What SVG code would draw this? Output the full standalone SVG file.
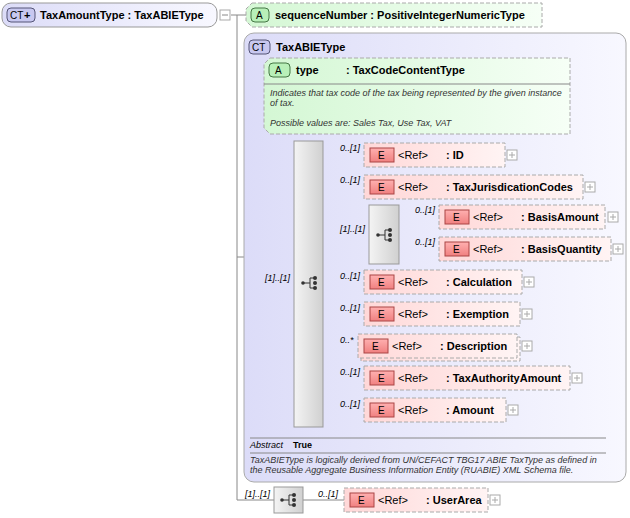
<svg xmlns="http://www.w3.org/2000/svg" width="630" height="518" viewBox="0 0 630 518">
<defs>
<linearGradient id="gE" x1="0" y1="0" x2="1" y2="0"><stop offset="0" stop-color="#ffd8d8"/><stop offset="1" stop-color="#fff4f4"/></linearGradient>
<linearGradient id="gA" x1="0" y1="0" x2="1" y2="0"><stop offset="0" stop-color="#d4f7d4"/><stop offset="1" stop-color="#f6fff6"/></linearGradient>
<linearGradient id="gCT" x1="0" y1="0" x2="1" y2="0"><stop offset="0" stop-color="#dcdcf8"/><stop offset="1" stop-color="#f8f8ff"/></linearGradient>
<linearGradient id="gS" x1="0" y1="0" x2="1" y2="0"><stop offset="0" stop-color="#f4f4f4"/><stop offset="1" stop-color="#d0d0d0"/></linearGradient>
<linearGradient id="gEi" x1="0" y1="0" x2="0" y2="1"><stop offset="0" stop-color="#ffb0b0"/><stop offset="1" stop-color="#f08080"/></linearGradient>
<g id="seqIcon"><line x1="-7" y1="0" x2="0" y2="0" stroke="#333"/><line x1="0" y1="-5" x2="0" y2="5" stroke="#333"/><line x1="0" y1="-5" x2="4" y2="-5" stroke="#333"/><line x1="0" y1="5" x2="4" y2="5" stroke="#333"/><circle cx="-7" cy="0" r="1.8" fill="#333"/><circle cx="5" cy="-5" r="2" fill="#333"/><circle cx="5" cy="0" r="2" fill="#333"/><circle cx="5" cy="5" r="2" fill="#333"/></g>
</defs>
<style>
text{font-family:"Liberation Sans",Arial,sans-serif;font-size:11px;fill:#000}
.b{font-weight:bold}
.s{font-size:10px}
.t{font-size:9px;font-weight:bold}
.i{font-style:italic;font-size:9px;fill:#333}
.m{font-style:italic;font-size:9px}
.ln{stroke:#888;stroke-width:1;fill:none}
.el{fill:url(#gE);stroke:#aaa;stroke-dasharray:4,2}
.ei{fill:url(#gEi);stroke:#a44}
.pl{fill:#fff;stroke:#aaa}
.sq{fill:url(#gS);stroke:#999}
</style>
<g id="connectors">
<path class="ln" d="M231 15H246M237 15V500H274M237 257H255M255 98V282H294M323 155H364M323 187H364M323 235H369M399 217H439M399 249H439M323 282H364M323 314H364M323 346H358M323 378H364M323 410H364M303 500H344"/>
</g>
<g id="root">
<rect x="2" y="3" width="215" height="24" rx="9" fill="url(#gCT)" stroke="#999"/>
<rect x="7" y="8" width="28" height="14" rx="4" fill="#c8c8f0" stroke="#557"/>
<text x="10" y="19" class="s">CT</text><text x="24" y="19" class="b" fill="#447">+</text>
<text x="40" y="19" class="b">TaxAmountType : TaxABIEType</text>
<rect x="220" y="10" width="10" height="10" class="pl"/><line x1="222" y1="15" x2="228" y2="15" stroke="#888"/>
</g>
<g id="sequenceNumber">
<path d="M252 3H542V27H252L246 21V9Z" fill="url(#gA)" stroke="#aaa" stroke-dasharray="4,2"/>
<rect x="251" y="8" width="18" height="14" rx="4" fill="#b8f0b8" stroke="#474"/><text x="256" y="19" class="s">A</text>
<text x="275" y="19" class="b">sequenceNumber : PositiveIntegerNumericType</text>
</g>
<g id="TaxABIEType">
<rect x="244" y="33" width="382" height="449" rx="10" fill="url(#gCT)" stroke="#aaa"/>
<rect x="249" y="40" width="21" height="14" rx="4" fill="#c8c8f0" stroke="#557"/><text x="252" y="51" class="s">CT</text>
<text x="276" y="51" class="b">TaxABIEType</text>
<line x1="250" y1="438" x2="606" y2="438" stroke="#888"/>
<text x="250" y="448" class="m">Abstract</text><text x="293" y="448" class="t">True</text>
<line x1="250" y1="453" x2="606" y2="453" stroke="#888"/>
<text x="250" y="463" class="i">TaxABIEType is logically derived from UN/CEFACT TBG17 ABIE TaxType as defined in</text>
<text x="250" y="473" class="i">the Reusable Aggregate Business Information Entity (RUABIE) XML Schema file.</text>
</g>
<g id="type">
<path d="M270 58H570V134H270L264 128V64Z" fill="url(#gA)" stroke="#aaa" stroke-dasharray="4,2"/>
<rect x="269" y="63" width="21" height="14" rx="4" fill="#b8f0b8" stroke="#474"/><text x="275" y="74" class="s">A</text>
<text x="296" y="74" class="b">type</text><text x="346" y="74" class="b">: TaxCodeContentType</text>
<line x1="264" y1="84" x2="570" y2="84" stroke="#888"/>
<text x="270" y="96" class="i">Indicates that tax code of the tax being represented by the given instance</text>
<text x="270" y="106" class="i">of tax.</text>
<text x="270" y="126" class="i">Possible values are: Sales Tax, Use Tax, VAT</text>
</g>
<g id="seq1"><rect x="294" y="141" width="29" height="286" class="sq"/><use href="#seqIcon" x="310" y="283"/><text x="265" y="281" class="m">[1]..[1]</text></g>
<g id="seq2"><rect x="369" y="205" width="30" height="59" class="sq"/><use href="#seqIcon" x="385" y="235"/><text x="340" y="232" class="m">[1]..[1]</text></g>
<g id="seq3"><rect x="274" y="487" width="29" height="26" class="sq"/><use href="#seqIcon" x="289" y="500"/><text x="245" y="497" class="m">[1]..[1]</text></g>
<g id="ID"><text x="340" y="151" class="m">0..[1]</text><rect x="364" y="143" width="141" height="24" class="el"/><rect x="370" y="148" width="24" height="14" class="ei"/><text x="378" y="159" class="s">E</text><text x="398" y="159">&lt;Ref&gt;</text><text x="446" y="159" class="b">: ID</text><rect x="507" y="150" width="10" height="10" class="pl"/><path d="M509 155h6M512 152v6" stroke="#aaa"/></g>
<g id="TaxJurisdictionCodes"><text x="340" y="183" class="m">0..[1]</text><rect x="364" y="175" width="219" height="24" class="el"/><rect x="370" y="180" width="24" height="14" class="ei"/><text x="378" y="191" class="s">E</text><text x="398" y="191">&lt;Ref&gt;</text><text x="446" y="191" class="b">: TaxJurisdicationCodes</text><rect x="585" y="182" width="10" height="10" class="pl"/><path d="M587 187h6M590 184v6" stroke="#aaa"/></g>
<g id="BasisAmount"><text x="415" y="213" class="m">0..[1]</text><rect x="439" y="205" width="166" height="24" class="el"/><rect x="445" y="210" width="24" height="14" class="ei"/><text x="453" y="221" class="s">E</text><text x="473" y="221">&lt;Ref&gt;</text><text x="521" y="221" class="b">: BasisAmount</text><rect x="608" y="212" width="10" height="10" class="pl"/><path d="M610 217h6M613 214v6" stroke="#aaa"/></g>
<g id="BasisQuantity"><text x="415" y="245" class="m">0..[1]</text><rect x="439" y="237" width="172" height="24" class="el"/><rect x="445" y="242" width="24" height="14" class="ei"/><text x="453" y="253" class="s">E</text><text x="473" y="253">&lt;Ref&gt;</text><text x="521" y="253" class="b">: BasisQuantity</text><rect x="613" y="244" width="10" height="10" class="pl"/><path d="M615 249h6M618 246v6" stroke="#aaa"/></g>
<g id="Calculation"><text x="340" y="279" class="m">0..[1]</text><rect x="364" y="270" width="158" height="24" class="el"/><rect x="370" y="275" width="24" height="14" class="ei"/><text x="378" y="286" class="s">E</text><text x="398" y="286">&lt;Ref&gt;</text><text x="446" y="286" class="b">: Calculation</text><rect x="524" y="277" width="10" height="10" class="pl"/><path d="M526 282h6M529 279v6" stroke="#aaa"/></g>
<g id="Exemption"><text x="340" y="311" class="m">0..[1]</text><rect x="364" y="302" width="156" height="24" class="el"/><rect x="370" y="307" width="24" height="14" class="ei"/><text x="378" y="318" class="s">E</text><text x="398" y="318">&lt;Ref&gt;</text><text x="446" y="318" class="b">: Exemption</text><rect x="522" y="309" width="10" height="10" class="pl"/><path d="M524 314h6M527 311v6" stroke="#aaa"/></g>
<g id="Description"><text x="340" y="343" class="m">0..*</text><rect x="361" y="337" width="159" height="24" class="el"/><rect x="358" y="334" width="159" height="24" class="el"/><rect x="364" y="339" width="24" height="14" class="ei"/><text x="372" y="350" class="s">E</text><text x="392" y="350">&lt;Ref&gt;</text><text x="440" y="350" class="b">: Description</text><rect x="522" y="341" width="10" height="10" class="pl"/><path d="M524 346h6M527 343v6" stroke="#aaa"/></g>
<g id="TaxAuthorityAmount"><text x="340" y="375" class="m">0..[1]</text><rect x="364" y="366" width="206" height="24" class="el"/><rect x="370" y="371" width="24" height="14" class="ei"/><text x="378" y="382" class="s">E</text><text x="398" y="382">&lt;Ref&gt;</text><text x="446" y="382" class="b">: TaxAuthorityAmount</text><rect x="572" y="373" width="10" height="10" class="pl"/><path d="M574 378h6M577 375v6" stroke="#aaa"/></g>
<g id="Amount"><text x="340" y="407" class="m">0..[1]</text><rect x="364" y="398" width="142" height="24" class="el"/><rect x="370" y="403" width="24" height="14" class="ei"/><text x="378" y="414" class="s">E</text><text x="398" y="414">&lt;Ref&gt;</text><text x="446" y="414" class="b">: Amount</text><rect x="508" y="405" width="10" height="10" class="pl"/><path d="M510 410h6M513 407v6" stroke="#aaa"/></g>
<g id="UserArea"><text x="318" y="497" class="m">0..[1]</text><rect x="344" y="488" width="144" height="24" class="el"/><rect x="350" y="493" width="24" height="14" class="ei"/><text x="358" y="504" class="s">E</text><text x="378" y="504">&lt;Ref&gt;</text><text x="426" y="504" class="b">: UserArea</text><rect x="490" y="495" width="10" height="10" class="pl"/><path d="M492 500h6M495 497v6" stroke="#aaa"/></g>
</svg>
